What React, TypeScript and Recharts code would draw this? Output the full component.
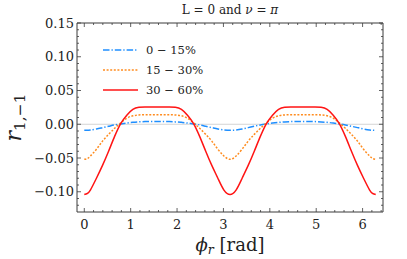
import React from 'react';
import { LineChart, Line, XAxis, YAxis, ReferenceLine, Legend, Label } from 'recharts';

// phi_r in radians
const phi = [
  0, 0.065, 0.131, 0.262, 0.393, 0.524, 0.654, 0.785, 0.916, 1.047, 1.178, 1.309, 1.44, 1.571,
  1.702, 1.833, 1.963, 2.094, 2.225, 2.356, 2.487, 2.618, 2.749, 2.88, 3.011, 3.142,
  3.272, 3.403, 3.534, 3.665, 3.796, 3.927, 4.058, 4.189, 4.32, 4.451, 4.581, 4.712,
  4.843, 4.974, 5.105, 5.236, 5.367, 5.498, 5.629, 5.76, 5.89, 6.021, 6.152, 6.218, 6.283,
];

// 0 - 15%
const c0to15 = [
  -0.009, -0.0089, -0.0085, -0.007, -0.005, -0.003, -0.001, 0.0005, 0.0018, 0.0028, 0.0035, 0.0039, 0.004, 0.004,
  0.004, 0.0039, 0.0035, 0.0028, 0.0018, 0.0005, -0.001, -0.003, -0.005, -0.007, -0.0085, -0.009,
  -0.0085, -0.007, -0.005, -0.003, -0.001, 0.0005, 0.0018, 0.0028, 0.0035, 0.0039, 0.004, 0.004,
  0.004, 0.0039, 0.0035, 0.0028, 0.0018, 0.0005, -0.001, -0.003, -0.005, -0.007, -0.0085, -0.0089, -0.009,
];

// 15 - 30%
const c15to30 = [
  -0.052, -0.0508, -0.047, -0.037, -0.025, -0.015, -0.006, 0.002, 0.009, 0.0125, 0.0138, 0.014, 0.014, 0.014,
  0.014, 0.014, 0.0138, 0.0125, 0.009, 0.002, -0.006, -0.015, -0.025, -0.037, -0.047, -0.052,
  -0.047, -0.037, -0.025, -0.015, -0.006, 0.002, 0.009, 0.0125, 0.0138, 0.014, 0.014, 0.014,
  0.014, 0.014, 0.0138, 0.0125, 0.009, 0.002, -0.006, -0.015, -0.025, -0.037, -0.047, -0.0508, -0.052,
];

// 30 - 60%
const c30to60 = [
  -0.104, -0.1025, -0.0975, -0.08, -0.061, -0.04, -0.018, 0.001, 0.0135, 0.0222, 0.0252, 0.0256, 0.0256, 0.0256,
  0.0256, 0.0256, 0.0252, 0.0222, 0.0135, 0.001, -0.018, -0.04, -0.061, -0.08, -0.0975, -0.104,
  -0.0975, -0.08, -0.061, -0.04, -0.018, 0.001, 0.0135, 0.0222, 0.0252, 0.0256, 0.0256, 0.0256,
  0.0256, 0.0256, 0.0252, 0.0222, 0.0135, 0.001, -0.018, -0.04, -0.061, -0.08, -0.0975, -0.1025, -0.104,
];

const seriesNames = ['0 \u2212 15%', '15 \u2212 30%', '30 \u2212 60%'];
const seriesKeys = ['c0to15', 'c15to30', 'c30to60'];
const seriesColors = ['#1f8fff', '#ff8c1f', '#ff1414'];
const seriesDash = ['6.5 2 1.3 2', '2 1.6', undefined];

const xMajorTicks = [0, 1, 2, 3, 4, 5, 6];
const xMinorTicks = [
  0.2, 0.4, 0.6, 0.8, 1.2, 1.4, 1.6, 1.8, 2.2, 2.4, 2.6, 2.8, 3.2, 3.4, 3.6, 3.8,
  4.2, 4.4, 4.6, 4.8, 5.2, 5.4, 5.6, 5.8, 6.2, 6.4,
];
const yMajorTicks = [-0.1, -0.05, 0, 0.05, 0.1, 0.15];
const yMinorTicks = [
  -0.12, -0.11, -0.09, -0.08, -0.07, -0.06, -0.04, -0.03, -0.02, -0.01,
  0.01, 0.02, 0.03, 0.04, 0.06, 0.07, 0.08, 0.09, 0.11, 0.12, 0.13, 0.14,
];
const xDomain = [-0.157, 6.44];
const yDomain = [-0.13, 0.15];

const data = phi.map((p, i) => ({
  phi: p,
  c0to15: c0to15[i],
  c15to30: c15to30[i],
  c30to60: c30to60[i],
}));

const FONT = "'DejaVu Serif', serif";
const FRAME = '#3a3a3a';
const isMajor = (v: number, majors: number[]) => majors.some((m) => Math.abs(m - v) < 1e-9);
const fmtY = (v: number) => (v < -1e-9 ? '\u2212' : '') + Math.abs(v).toFixed(2);

const BottomTick = (props: any) => {
  const { x, y, payload } = props;
  const major = isMajor(payload.value, xMajorTicks);
  return (
    <g>
      <line x1={x} x2={x} y1={y} y2={y - (major ? 4 : 2)} stroke={FRAME} strokeWidth={0.8} />
      {major && (
        <text x={x} y={y + 16.5} textAnchor="middle" style={{ fontFamily: FONT }} fontSize={13} fill="#222">
          {payload.value}
        </text>
      )}
    </g>
  );
};

const TopTick = (props: any) => {
  const { x, y, payload } = props;
  const major = isMajor(payload.value, xMajorTicks);
  return <line x1={x} x2={x} y1={y} y2={y + (major ? 4 : 2)} stroke={FRAME} strokeWidth={0.8} />;
};

const LeftTick = (props: any) => {
  const { x, y, payload } = props;
  const major = isMajor(payload.value, yMajorTicks);
  return (
    <g>
      <line x1={x} x2={x + (major ? 4 : 2)} y1={y} y2={y} stroke={FRAME} strokeWidth={0.8} />
      {major && (
        <text x={x - 3} y={y + 4.5} textAnchor="end" style={{ fontFamily: FONT }} fontSize={13} fill="#222">
          {fmtY(payload.value)}
        </text>
      )}
    </g>
  );
};

const RightTick = (props: any) => {
  const { x, y, payload } = props;
  const major = isMajor(payload.value, yMajorTicks);
  return <line x1={x} x2={x - (major ? 4 : 2)} y1={y} y2={y} stroke={FRAME} strokeWidth={0.8} />;
};

const TitleLabel = (props: any) => {
  const vb = props.viewBox || {};
  const cx = vb.x + vb.width / 2;
  return (
    <text x={cx} y={13.5} textAnchor="middle" style={{ fontFamily: FONT }} fontSize={12} fill="#222">
      <tspan>L = 0 and </tspan>
      <tspan fontStyle="italic">{'\u03bd'}</tspan>
      <tspan> = </tspan>
      <tspan fontStyle="italic">{'\u03c0'}</tspan>
    </text>
  );
};

const XTitle = (props: any) => {
  const vb = props.viewBox || {};
  const cx = vb.x + vb.width / 2;
  return (
    <text x={cx} y={250.5} textAnchor="middle" style={{ fontFamily: FONT }} fontSize={18} fill="#222">
      <tspan fontStyle="italic">{'\u03d5'}</tspan>
      <tspan fontStyle="italic" fontSize={12.6} dy={3}>r</tspan>
      <tspan dy={-3}> [rad]</tspan>
    </text>
  );
};

const YTitle = (props: any) => {
  const vb = props.viewBox || {};
  const cx = 21;
  const cy = vb.y + vb.height / 2;
  return (
    <text
      x={cx}
      y={cy}
      transform={`rotate(-90 ${cx} ${cy})`}
      textAnchor="middle"
      style={{ fontFamily: FONT }}
      fill="#222"
    >
      <tspan fontStyle="italic" fontSize={22}>r</tspan>
      <tspan fontSize={15.4} dy={4}>1,{'\u2212'}1</tspan>
    </text>
  );
};

const LegendContent = () => (
  <svg width={130} height={66} style={{ display: 'block' }}>
    {seriesNames.map((name, i) => {
      const cy = 12 + 20 * i;
      return (
        <g key={name}>
          <line
            x1={8}
            x2={43}
            y1={cy}
            y2={cy}
            stroke={seriesColors[i]}
            strokeWidth={1.5}
            strokeDasharray={seriesDash[i]}
          />
          <text x={51} y={cy + 4} style={{ fontFamily: FONT }} fontSize={11.5} fill="#222">
            {name}
          </text>
        </g>
      );
    })}
  </svg>
);

export default function App() {
  return (
    <div style={{ position: 'absolute', left: 0, top: 0, width: 407, height: 259, background: '#fff' }}>
      <LineChart
        width={407}
        height={259}
        data={data}
        margin={{ top: 3, right: 4, bottom: 7, left: 7 }}
      >
        <XAxis
          dataKey="phi"
          type="number"
          domain={xDomain}
          allowDataOverflow
          ticks={[...xMajorTicks, ...xMinorTicks]}
          interval={0}
          height={40}
          tickSize={0}
          tickMargin={0}
          tickLine={false}
          tick={<BottomTick />}
          axisLine={{ stroke: FRAME, strokeWidth: 1 }}
        >
          <Label content={<XTitle />} />
        </XAxis>
        <XAxis
          xAxisId="top"
          orientation="top"
          dataKey="phi"
          type="number"
          domain={xDomain}
          allowDataOverflow
          ticks={[...xMajorTicks, ...xMinorTicks]}
          interval={0}
          height={20}
          tickSize={0}
          tickMargin={0}
          tickLine={false}
          tick={<TopTick />}
          axisLine={{ stroke: FRAME, strokeWidth: 1 }}
        >
          <Label content={<TitleLabel />} />
        </XAxis>
        <YAxis
          type="number"
          domain={yDomain}
          allowDataOverflow
          ticks={[...yMajorTicks, ...yMinorTicks]}
          interval={0}
          width={70}
          tickSize={0}
          tickMargin={0}
          tickLine={false}
          tick={<LeftTick />}
          axisLine={{ stroke: FRAME, strokeWidth: 1 }}
        >
          <Label content={<YTitle />} />
        </YAxis>
        <YAxis
          yAxisId="right"
          orientation="right"
          type="number"
          domain={yDomain}
          allowDataOverflow
          ticks={[...yMajorTicks, ...yMinorTicks]}
          interval={0}
          width={20}
          tickSize={0}
          tickMargin={0}
          tickLine={false}
          tick={<RightTick />}
          axisLine={{ stroke: FRAME, strokeWidth: 1 }}
        />
        <ReferenceLine y={0} stroke="#d4d4d4" strokeWidth={1} />
        {seriesKeys.map((k, i) => (
          <Line
            key={k}
            dataKey={k}
            name={seriesNames[i]}
            type="natural"
            stroke={seriesColors[i]}
            strokeWidth={1.5}
            strokeDasharray={seriesDash[i]}
            dot={false}
            activeDot={false}
            isAnimationActive={false}
          />
        ))}
        <Legend
          content={<LegendContent />}
          layout="vertical"
          align="center"
          verticalAlign="middle"
          width={130}
          height={66}
          wrapperStyle={{ left: 95, top: 38, width: 130, height: 66 }}
        />
      </LineChart>
    </div>
  );
}
